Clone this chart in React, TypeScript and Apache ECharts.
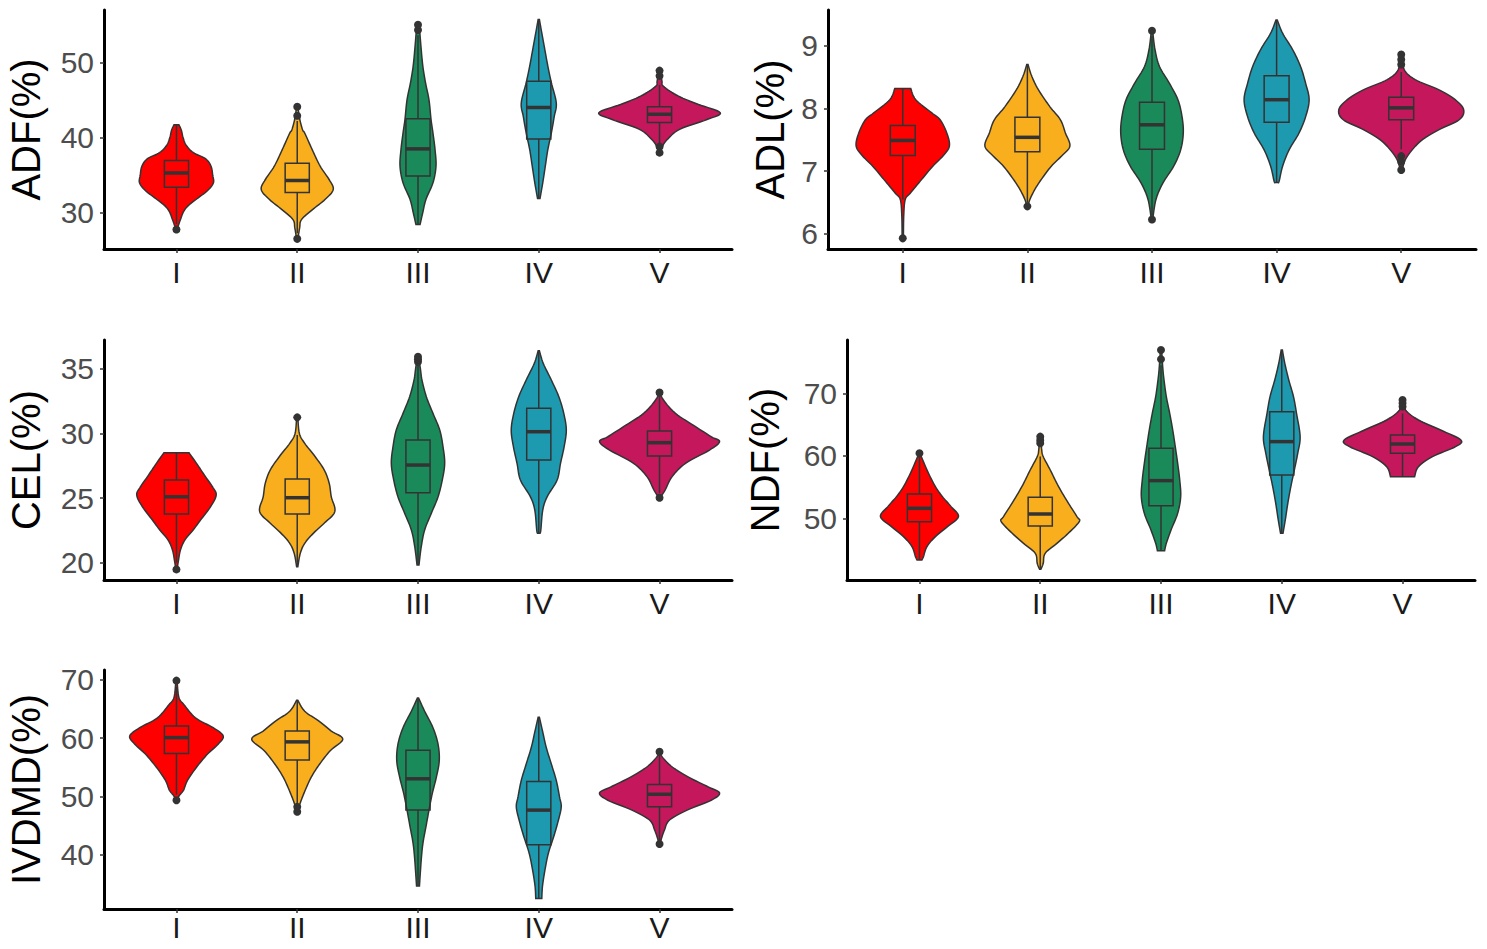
import React, { useEffect, useRef } from "react";
import * as echarts from "echarts";

// ---------- data ----------
const categories = ["I", "II", "III", "IV", "V"];
const groupColors = ["#FE0000", "#F9AF1D", "#1B8A5A", "#1E9AB0", "#C5175B"];

const panelTitles = ["ADF(%)", "ADL(%)", "CEL(%)", "NDF(%)", "IVDMD(%)"];

const adfTicks = [30, 40, 50];
const adlTicks = [6, 7, 8, 9];
const celTicks = [20, 25, 30, 35];
const ndfTicks = [50, 60, 70];
const ivdmdTicks = [40, 50, 60, 70];

const adfRange = [25.2, 56.95];
const adlRange = [5.76, 9.57];
const celRange = [18.66, 37.24];
const ndfRange = [40.13, 78.53];
const ivdmdRange = [30.66, 71.7];

// box stats: [lower whisker, q1, median, q3, upper whisker]
const adfBoxes = [
  [28.5, 33.4, 35.3, 36.95, 41.7],
  [27.3, 32.7, 34.3, 36.6, 42.2],
  [28.5, 34.9, 38.5, 42.5, 53.6],
  [31.9, 39.8, 44.0, 47.5, 55.7],
  [39.2, 42.0, 43.1, 44.1, 47.0],
];
const adfOutliers = [[27.8], [42.9, 44.1, 26.55], [54.3, 55.0], [], [48.2, 48.9, 38.8, 38.0]];

const adlBoxes = [
  [6.55, 7.25, 7.49, 7.73, 8.32],
  [6.5, 7.31, 7.54, 7.86, 8.7],
  [6.3, 7.35, 7.74, 8.1, 9.15],
  [6.82, 7.78, 8.14, 8.52, 9.41],
  [7.35, 7.82, 8.01, 8.18, 8.58],
];
const adlOutliers = [[5.93], [6.44], [9.24, 6.23], [], [8.7, 8.78, 8.86, 7.24, 7.15, 7.02]];

const celBoxes = [
  [20.0, 23.77, 25.1, 26.4, 28.51],
  [19.69, 23.77, 25.03, 26.48, 29.88],
  [19.82, 25.42, 27.56, 29.49, 35.3],
  [22.27, 27.95, 30.14, 31.95, 36.41],
  [25.4, 28.26, 29.29, 30.19, 32.9],
];
const celOutliers = [[19.48], [31.25], [35.56, 35.75, 35.94], [], [33.18, 25.03]];

const ndfBoxes = [
  [43.33, 49.47, 51.6, 53.9, 60.2],
  [41.84, 48.77, 50.69, 53.36, 59.9],
  [44.83, 52.03, 56.03, 61.2, 74.5],
  [47.6, 56.93, 62.27, 67.07, 76.93],
  [56.67, 60.4, 61.89, 63.33, 66.8],
];
const ndfOutliers = [[60.4], [62.0, 62.5, 63.07], [75.44, 76.93], [], [67.87, 68.4, 68.93]];

const ivdmdBoxes = [
  [50.3, 57.37, 60.09, 62.07, 68.8],
  [48.8, 56.24, 59.36, 61.22, 66.49],
  [34.62, 47.64, 53.02, 57.94, 66.88],
  [32.47, 41.7, 47.64, 52.56, 63.6],
  [42.5, 48.2, 50.36, 52.05, 57.0],
];
const ivdmdOutliers = [[69.88, 49.34], [48.2, 47.36], [], [], [57.66, 41.81]];

// violin outlines: [value, half width as a fraction of the category band]
const adfViolins = [
  [[41.7, 0.02], [41.0, 0.04], [40.0, 0.055], [39.0, 0.08], [38.0, 0.14], [37.2, 0.24], [36.2, 0.286], [35.0, 0.3], [34.0, 0.306], [33.0, 0.26], [32.0, 0.18], [31.0, 0.1], [30.2, 0.06], [29.2, 0.035], [28.3, 0.015], [27.8, 0.005]],
  [[44.1, 0.005], [42.5, 0.02], [41.0, 0.045], [40.6, 0.062], [38.4, 0.124], [36.2, 0.19], [34.4, 0.265], [33.1, 0.298], [31.8, 0.232], [30.4, 0.124], [29.1, 0.035], [28.0, 0.02], [26.55, 0.005]],
  [[55.0, 0.01], [52.0, 0.025], [49.5, 0.04], [47.3, 0.062], [45.0, 0.091], [42.4, 0.108], [40.6, 0.124], [38.4, 0.141], [36.2, 0.149], [34.0, 0.124], [31.8, 0.066], [30.0, 0.039], [28.45, 0.017]],
  [[55.7, 0.005], [53.9, 0.025], [51.7, 0.05], [49.5, 0.075], [47.3, 0.104], [44.6, 0.145], [42.8, 0.128], [40.6, 0.104], [38.4, 0.075], [36.2, 0.054], [34.0, 0.033], [31.9, 0.01]],
  [[49.0, 0.005], [47.5, 0.02], [46.8, 0.033], [45.5, 0.157], [44.4, 0.323], [43.3, 0.503], [42.4, 0.393], [41.1, 0.166], [39.7, 0.062], [38.85, 0.025], [37.9, 0.005]],
];

const adlViolins = [
  [[8.32, 0.064], [8.14, 0.104], [7.93, 0.233], [7.82, 0.3], [7.61, 0.353], [7.4, 0.374], [7.24, 0.321], [7.08, 0.241], [6.87, 0.152], [6.65, 0.06], [6.55, 0.02], [6.3, 0.008], [5.93, 0.005]],
  [[8.7, 0.005], [8.51, 0.036], [8.3, 0.088], [8.03, 0.18], [7.82, 0.265], [7.61, 0.305], [7.4, 0.341], [7.24, 0.273], [7.08, 0.192], [6.87, 0.112], [6.71, 0.06], [6.55, 0.02], [6.44, 0.005]],
  [[9.24, 0.005], [8.94, 0.024], [8.67, 0.06], [8.4, 0.14], [8.14, 0.208], [7.87, 0.241], [7.61, 0.251], [7.34, 0.23], [7.08, 0.174], [6.81, 0.087], [6.55, 0.032], [6.23, 0.005]],
  [[9.41, 0.005], [9.2, 0.048], [8.94, 0.128], [8.67, 0.192], [8.4, 0.233], [8.14, 0.261], [7.87, 0.233], [7.61, 0.18], [7.34, 0.1], [7.08, 0.048], [6.84, 0.02], [6.82, 0.01]],
  [[8.86, 0.005], [8.62, 0.024], [8.46, 0.112], [8.3, 0.3], [8.14, 0.433], [7.98, 0.501], [7.82, 0.465], [7.66, 0.3], [7.5, 0.168], [7.34, 0.088], [7.18, 0.032], [7.0, 0.005]],
];

const celViolins = [
  [[28.51, 0.104], [27.69, 0.166], [26.66, 0.24], [25.88, 0.298], [25.24, 0.329], [24.33, 0.282], [23.3, 0.199], [22.53, 0.138], [21.75, 0.069], [20.98, 0.033], [20.2, 0.017], [19.48, 0.005]],
  [[31.25, 0.005], [30.0, 0.018], [29.24, 0.062], [28.2, 0.149], [27.17, 0.224], [26.14, 0.265], [25.1, 0.282], [23.95, 0.311], [23.04, 0.221], [22.27, 0.133], [21.5, 0.062], [20.72, 0.025], [19.69, 0.005]],
  [[35.94, 0.005], [35.0, 0.02], [34.14, 0.033], [32.85, 0.069], [31.56, 0.124], [30.27, 0.18], [28.98, 0.207], [27.69, 0.221], [26.4, 0.201], [25.1, 0.166], [23.82, 0.11], [22.53, 0.055], [21.24, 0.027], [19.82, 0.008]],
  [[36.41, 0.005], [35.43, 0.037], [34.14, 0.104], [32.85, 0.166], [31.56, 0.207], [30.27, 0.228], [28.98, 0.21], [27.69, 0.18], [26.4, 0.152], [25.1, 0.069], [24.08, 0.033], [22.53, 0.017], [22.27, 0.01]],
  [[33.18, 0.005], [32.59, 0.033], [31.56, 0.132], [30.53, 0.298], [29.75, 0.428], [29.37, 0.497], [28.72, 0.414], [27.69, 0.215], [26.66, 0.104], [25.62, 0.046], [25.03, 0.005]],
];

const ndfViolins = [
  [[60.4, 0.005], [59.33, 0.027], [57.2, 0.075], [55.07, 0.132], [53.47, 0.19], [51.87, 0.262], [50.27, 0.323], [48.67, 0.232], [47.07, 0.132], [45.47, 0.062], [43.87, 0.033], [43.33, 0.02]],
  [[63.07, 0.005], [61.0, 0.012], [59.87, 0.025], [57.73, 0.083], [55.07, 0.152], [52.4, 0.234], [50.27, 0.304], [49.47, 0.323], [47.6, 0.232], [46.0, 0.138], [44.4, 0.041], [42.8, 0.025], [41.84, 0.005]],
  [[76.93, 0.005], [74.0, 0.015], [72.13, 0.025], [69.47, 0.044], [66.8, 0.072], [64.13, 0.097], [61.47, 0.118], [58.8, 0.138], [56.13, 0.155], [53.47, 0.163], [50.8, 0.138], [48.13, 0.083], [46.0, 0.044], [44.83, 0.03]],
  [[76.93, 0.005], [74.8, 0.025], [72.13, 0.058], [69.47, 0.097], [66.8, 0.122], [63.07, 0.152], [60.4, 0.132], [57.73, 0.104], [55.07, 0.075], [52.4, 0.05], [49.73, 0.029], [47.6, 0.01]],
  [[68.93, 0.005], [67.33, 0.025], [65.73, 0.132], [64.13, 0.315], [62.53, 0.483], [61.47, 0.439], [59.87, 0.248], [58.27, 0.132], [56.67, 0.1]],
];

const ivdmdViolins = [
  [[69.88, 0.005], [67.0, 0.02], [65.75, 0.062], [63.49, 0.157], [61.79, 0.304], [60.37, 0.387], [58.96, 0.345], [57.26, 0.257], [55.0, 0.166], [52.73, 0.091], [51.04, 0.058], [50.19, 0.025], [49.34, 0.005]],
  [[66.49, 0.005], [64.62, 0.062], [62.92, 0.18], [61.22, 0.282], [59.81, 0.377], [57.83, 0.273], [55.56, 0.186], [53.3, 0.116], [51.04, 0.066], [49.34, 0.033], [48.2, 0.015], [47.36, 0.005]],
  [[66.88, 0.005], [64.62, 0.055], [61.79, 0.124], [58.96, 0.166], [56.13, 0.176], [53.3, 0.152], [50.47, 0.118], [47.64, 0.091], [44.81, 0.066], [41.98, 0.041], [39.15, 0.027], [34.62, 0.012]],
  [[63.6, 0.005], [61.22, 0.031], [58.39, 0.062], [55.56, 0.104], [52.73, 0.145], [49.9, 0.172], [48.2, 0.186], [45.94, 0.163], [43.11, 0.124], [40.28, 0.08], [37.45, 0.052], [34.62, 0.031], [32.47, 0.025]],
  [[57.66, 0.005], [56.7, 0.025], [55.0, 0.108], [53.3, 0.24], [51.6, 0.406], [50.58, 0.497], [49.34, 0.428], [47.64, 0.228], [45.94, 0.083], [44.24, 0.041], [42.83, 0.017], [41.81, 0.005]],
];

// ---------- helpers ----------
function catmullRom(pts: number[][], steps: number): number[][] {
  const out: number[][] = [];
  const n = pts.length;
  for (let i = 0; i < n - 1; i++) {
    const p0 = pts[Math.max(i - 1, 0)];
    const p1 = pts[i];
    const p2 = pts[i + 1];
    const p3 = pts[Math.min(i + 2, n - 1)];
    for (let s = 0; s < steps; s++) {
      const t = s / steps;
      const t2 = t * t;
      const t3 = t2 * t;
      const f = (a: number, b: number, c: number, d: number) =>
        0.5 * (2 * b + (-a + c) * t + (2 * a - 5 * b + 4 * c - d) * t2 + (-a + 3 * b - 3 * c + d) * t3);
      out.push([f(p0[0], p1[0], p2[0], p3[0]), Math.max(0, f(p0[1], p1[1], p2[1], p3[1]))]);
    }
  }
  out.push(pts[n - 1]);
  return out;
}

const INK = "#333333";
const FONT = "'Liberation Sans', Arial, sans-serif";

function makeRenderer(violins: number[][][], boxes: number[][], outliers: number[][]) {
  return (params: any, api: any) => {
    const g = params.dataIndex;
    const band = api.size([1, 0])[0];
    const cx = api.coord([g + 1, boxes[g][2]])[0];
    const Y = (v: number) => api.coord([g + 1, v])[1];
    const prof = violins[g].map((p) => [Y(p[0]), p[1] * band]);
    const sm = catmullRom(prof, 8);
    const right = sm.map((p) => [cx + p[1], p[0]]);
    const left = sm.slice().reverse().map((p) => [cx - p[1], p[0]]);
    const [lo, q1, med, q3, hi] = boxes[g];
    const bw = 0.2 * band;
    const children: any[] = [
      {
        type: "polygon",
        shape: { points: right.concat(left) },
        style: { fill: groupColors[g], stroke: INK, lineWidth: 1.5 },
      },
      { type: "line", shape: { x1: cx, y1: Y(hi), x2: cx, y2: Y(q3) }, style: { stroke: INK, lineWidth: 1.5 } },
      { type: "line", shape: { x1: cx, y1: Y(q1), x2: cx, y2: Y(lo) }, style: { stroke: INK, lineWidth: 1.5 } },
      {
        type: "rect",
        shape: { x: cx - bw / 2, y: Y(q3), width: bw, height: Y(q1) - Y(q3) },
        style: { fill: "none", stroke: INK, lineWidth: 1.5 },
      },
      { type: "line", shape: { x1: cx - bw / 2, y1: Y(med), x2: cx + bw / 2, y2: Y(med) }, style: { stroke: INK, lineWidth: 3.5 } },
    ];
    outliers[g].forEach((v) => {
      children.push({ type: "circle", shape: { cx, cy: Y(v), r: 4 }, style: { fill: INK } });
    });
    return { type: "group", children };
  };
}

const panels = [
  { ticks: adfTicks, range: adfRange, boxes: adfBoxes, outliers: adfOutliers, violins: adfViolins, grid: { left: 104, top: 10, width: 628, height: 239 }, gap: 58, lm: 10 },
  { ticks: adlTicks, range: adlRange, boxes: adlBoxes, outliers: adlOutliers, violins: adlViolins, grid: { left: 828, top: 10, width: 648, height: 239 }, gap: 38, lm: 10 },
  { ticks: celTicks, range: celRange, boxes: celBoxes, outliers: celOutliers, violins: celViolins, grid: { left: 104, top: 340, width: 628, height: 240 }, gap: 58, lm: 10 },
  { ticks: ndfTicks, range: ndfRange, boxes: ndfBoxes, outliers: ndfOutliers, violins: ndfViolins, grid: { left: 847, top: 340, width: 628, height: 240 }, gap: 62, lm: 10 },
  { ticks: ivdmdTicks, range: ivdmdRange, boxes: ivdmdBoxes, outliers: ivdmdOutliers, violins: ivdmdViolins, grid: { left: 104, top: 670, width: 628, height: 239 }, gap: 58, lm: 5 },
];

export default function App() {
  const ref = useRef<HTMLDivElement>(null);
  useEffect(() => {
    if (!ref.current) return;
    const chart = echarts.init(ref.current, undefined, { renderer: "svg" });
    const catIdx = [1, 2, 3, 4, 5];
    const option: any = {
      animation: false,
      backgroundColor: "#ffffff",
      grid: panels.map((p) => ({ ...p.grid, containLabel: false })),
      xAxis: panels.map((p, i) => ({
        type: "value",
        gridIndex: i,
        min: 0.4,
        max: 5.6,
        splitLine: { show: false },
        axisLine: { show: true, onZero: false, lineStyle: { color: "#000", width: 3 } },
        axisTick: { show: true, customValues: catIdx, length: 4, lineStyle: { color: INK, width: 1.5 } },
        axisLabel: {
          customValues: catIdx,
          formatter: (v: number) => categories[Math.round(v) - 1] ?? "",
          fontSize: 30,
          lineHeight: 26,
          color: "#1a1a1a",
          fontFamily: FONT,
          margin: p.lm,
        },
      })),
      yAxis: panels.map((p, i) => ({
        type: "value",
        gridIndex: i,
        min: p.range[0],
        max: p.range[1],
        splitLine: { show: false },
        axisLine: { show: true, onZero: false, lineStyle: { color: "#000", width: 3 } },
        axisTick: { show: true, customValues: p.ticks, length: 4, lineStyle: { color: INK, width: 1.5 } },
        axisLabel: {
          customValues: p.ticks,
          fontSize: 30,
          color: "#4D4D4D",
          fontFamily: FONT,
          margin: 10,
        },
        name: panelTitles[i],
        nameLocation: "middle",
        nameGap: p.gap,
        nameRotate: 90,
        nameTextStyle: { fontSize: 40, color: "#000", fontFamily: FONT },
      })),
      series: panels.map((p, i) => ({
        type: "custom",
        xAxisIndex: i,
        yAxisIndex: i,
        silent: true,
        clip: false,
        data: categories.map((c, g) => [g + 1, p.boxes[g][2]]),
        renderItem: makeRenderer(p.violins, p.boxes, p.outliers),
      })),
    };
    chart.setOption(option);
    return () => chart.dispose();
  }, []);
  return (
    <div
      ref={ref}
      style={{ position: "absolute", left: 0, top: 0, width: 1487, height: 949, background: "#fff" }}
    />
  );
}
